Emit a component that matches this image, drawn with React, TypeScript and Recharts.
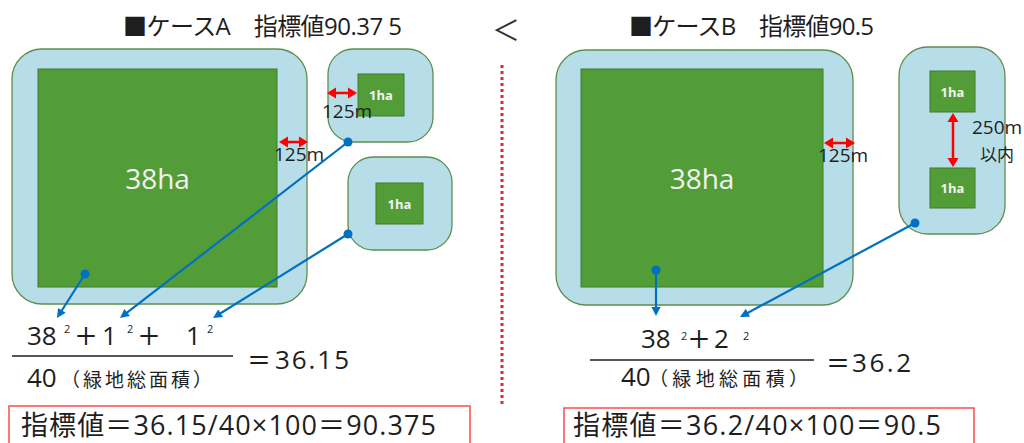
import React from "react";
import {
  ScatterChart,
  Scatter,
  XAxis,
  YAxis,
  ReferenceArea,
  ReferenceLine,
  ReferenceDot,
} from "recharts";

const W = 1024;
const H = 443;

const LATIN = "'Open Sans', 'Noto Sans CJK JP', sans-serif";
const CJK = "'Noto Sans CJK JP', sans-serif";

const ZONE_FILL = "#B7DEE8";
const ZONE_STROKE = "#5E8E4C";
const PARK_FILL = "#539D38";
const PARK_STROKE = "#3F7A2C";
const BLUE = "#0070C0";
const RED = "#FF0000";
const INK = "#1E1E1E";

// drawing space = slide pixels; x to the right, y downward
// 125m catchment zones around each green space
const zones = [
  { x1: 12, x2: 307, y1: 49, y2: 304 },
  { x1: 328, x2: 433, y1: 49, y2: 142 },
  { x1: 348, x2: 452, y1: 157, y2: 250 },
  { x1: 556, x2: 853, y1: 50, y2: 305 },
  { x1: 899, x2: 1005, y1: 47, y2: 234 },
];

// green spaces themselves
const parks = [
  { x1: 38, x2: 277, y1: 69, y2: 287 },
  { x1: 358, x2: 404, y1: 74, y2: 116 },
  { x1: 376, x2: 423, y1: 183, y2: 224 },
  { x1: 581, x2: 823, y1: 69, y2: 287 },
  { x1: 930, x2: 975, y1: 71, y2: 112 },
  { x1: 930, x2: 975, y1: 168, y2: 208 },
];
const parkAreas = ["38ha", "1ha", "1ha", "38ha", "1ha", "1ha"];

// red distance arrows
const gapArrows = [
  { x1: 327, y1: 93, x2: 357, y2: 93 },
  { x1: 279, y1: 142, x2: 308, y2: 142 },
  { x1: 824, y1: 143, x2: 855, y2: 143 },
  { x1: 953, y1: 113, x2: 953, y2: 167 },
];
const gapLabels = [
  { text: "125m", x: 347, y: 118 },
  { text: "125m", x: 299, y: 161 },
  { text: "125m", x: 843, y: 162 },
  { text: "250m", x: 997, y: 134 },
  { text: "以内", x: 997, y: 161 },
];

// blue leaders: from the zone to its term in the formula
const leaders = [
  { x1: 85, y1: 274, x2: 57, y2: 318 },
  { x1: 348, y1: 142, x2: 120, y2: 318 },
  { x1: 348, y1: 234, x2: 213, y2: 318 },
  { x1: 656, y1: 270, x2: 656, y2: 316 },
  { x1: 915, y1: 223, x2: 740, y2: 317 },
];

// headings: text, start x, end x, baseline
const titles = [
  { text: "■ケースA　指標値90.37 5", x: 123, x2: 402, y: 35 },
  { text: "■ケースB　指標値90.5", x: 629, x2: 874, y: 35 },
];

// formula terms (num = big digits, sup = squared mark)
const formulaA = [
  { text: "38", x: 27, y: 345, kind: "num" },
  { text: "2", x: 64, y: 333, kind: "sup" },
  { text: "＋", x: 74, y: 345, kind: "op" },
  { text: "1", x: 102, y: 345, kind: "num" },
  { text: "2", x: 127, y: 333, kind: "sup" },
  { text: "＋", x: 137, y: 345, kind: "op" },
  { text: "1", x: 186, y: 345, kind: "num" },
  { text: "2", x: 207, y: 333, kind: "sup" },
  { text: "40", x: 27, y: 387, kind: "num" },
  { text: "＝", x: 247, y: 369, kind: "op" },
];
const formulaB = [
  { text: "38", x: 641, y: 348, kind: "num" },
  { text: "2", x: 681, y: 340, kind: "sup" },
  { text: "＋", x: 687, y: 348, kind: "op" },
  { text: "2", x: 714, y: 348, kind: "num" },
  { text: "2", x: 743, y: 340, kind: "sup" },
  { text: "40", x: 621, y: 386, kind: "num" },
  { text: "＝", x: 826, y: 372, kind: "op" },
];
// stretched runs: text, start x, end x, baseline
const fittedRuns = [
  { text: "（緑地総面積）", x: 61, x2: 212, y: 387, kind: "paren" },
  { text: "36.15", x: 275, x2: 349, y: 369, kind: "num" },
  { text: "（緑地総面積）", x: 649, x2: 808, y: 386, kind: "paren" },
  { text: "36.2", x: 852, x2: 911, y: 372, kind: "num" },
  { text: "指標値＝36.15/40×100＝90.375", x: 21, x2: 436, y: 435, kind: "result" },
  { text: "指標値＝36.2/40×100＝90.5", x: 573, x2: 941, y: 435, kind: "result" },
];

const fractionBars = [
  { x1: 12, x2: 233, y: 356 },
  { x1: 590, x2: 814, y: 360 },
];
const resultBoxes = [
  { x1: 9, x2: 470, y1: 406 },
  { x1: 564, x2: 974, y1: 408 },
];
const divider = { x: 502, y1: 65, y2: 405 };

const TEXT_STYLE: Record<string, any> = {
  title: { fontSize: 24, fontFamily: LATIN, fill: INK },
  num: { fontSize: 26, fontFamily: LATIN, fill: INK },
  sup: { fontSize: 11, fontFamily: LATIN, fill: INK },
  op: { fontSize: 24, fontFamily: CJK, fill: INK, fontWeight: 500 },
  paren: { fontSize: 19, fontFamily: CJK, fill: INK },
  result: { fontSize: 27, fontFamily: LATIN, fill: INK },
  gap: { fontSize: 19, fontFamily: LATIN, fill: INK, textAnchor: "middle" },
};

function headPoints(x: number, y: number, ux: number, uy: number, len: number, hw: number) {
  const bx = x - ux * len;
  const by = y - uy * len;
  return `${x},${y} ${bx - uy * hw},${by + ux * hw} ${bx + uy * hw},${by - ux * hw}`;
}

function LeaderShape(p: any) {
  const dx = p.x2 - p.x1;
  const dy = p.y2 - p.y1;
  const d = Math.hypot(dx, dy) || 1;
  const ux = dx / d;
  const uy = dy / d;
  const len = 8;
  return (
    <g>
      <line x1={p.x1} y1={p.y1} x2={p.x2 - ux * len} y2={p.y2 - uy * len} stroke={BLUE} strokeWidth={2.2} />
      <polygon points={headPoints(p.x2, p.y2, ux, uy, len + 1, 4.5)} fill={BLUE} />
    </g>
  );
}

function GapShape(p: any) {
  const dx = p.x2 - p.x1;
  const dy = p.y2 - p.y1;
  const d = Math.hypot(dx, dy) || 1;
  const ux = dx / d;
  const uy = dy / d;
  const len = 9;
  return (
    <g>
      <line
        x1={p.x1 + ux * len}
        y1={p.y1 + uy * len}
        x2={p.x2 - ux * len}
        y2={p.y2 - uy * len}
        stroke={RED}
        strokeWidth={2.5}
      />
      <polygon points={headPoints(p.x2, p.y2, ux, uy, len, 5.5)} fill={RED} />
      <polygon points={headPoints(p.x1, p.y1, -ux, -uy, len, 5.5)} fill={RED} />
    </g>
  );
}

const roundedRect = (fill: string, stroke: string, sw: number, radius: (w: number, h: number) => number) =>
  (p: any) => (
    <rect
      x={p.x}
      y={p.y}
      width={p.width}
      height={p.height}
      rx={radius(p.width, p.height)}
      fill={fill}
      stroke={stroke}
      strokeWidth={sw}
    />
  );

const zoneShape = roundedRect(ZONE_FILL, ZONE_STROKE, 1.3, (w, h) => Math.min(30, 0.27 * Math.min(w, h)));
const parkShape = roundedRect(PARK_FILL, PARK_STROKE, 1, () => 0);

const pointText = (text: string, style: any, extra: any = {}) => (p: any) => (
  <text x={p.cx} y={p.cy} {...style} {...extra}>
    {text}
  </text>
);

const runText = (text: string, style: any) => (p: any) => (
  <text x={p.x1} y={p.y1} textLength={p.x2 - p.x1} lengthAdjust="spacing" {...style}>
    {text}
  </text>
);

export default function App() {
  const dots = leaders.map((l) => ({ x: l.x1, y: l.y1 }));
  return (
    <div style={{ position: "absolute", left: 0, top: 0, width: W, height: H, background: "#fff" }}>
      <ScatterChart width={W} height={H} margin={{ top: 0, right: 0, bottom: 0, left: 0 }}>
        <XAxis type="number" dataKey="x" domain={[0, W]} hide allowDataOverflow />
        <YAxis type="number" dataKey="y" domain={[0, H]} reversed hide allowDataOverflow />

        {zones.map((z, i) => (
          <ReferenceArea key={`z${i}`} x1={z.x1} x2={z.x2} y1={z.y1} y2={z.y2} shape={zoneShape} />
        ))}
        {parks.map((z, i) => (
          <ReferenceArea key={`p${i}`} x1={z.x1} x2={z.x2} y1={z.y1} y2={z.y2} shape={parkShape} />
        ))}
        {resultBoxes.map((b, i) => (
          <ReferenceArea
            key={`b${i}`}
            x1={b.x1}
            x2={b.x2}
            y1={b.y1}
            y2={H + 6}
            ifOverflow="visible"
            fill="none"
            fillOpacity={0}
            stroke="#FF4A4A"
            strokeWidth={1.5}
          />
        ))}

        <ReferenceLine
          segment={[
            { x: divider.x, y: divider.y1 },
            { x: divider.x, y: divider.y2 },
          ]}
          stroke="#E8262A"
          strokeWidth={3}
          strokeDasharray="3 3"
        />
        {fractionBars.map((f, i) => (
          <ReferenceLine
            key={`f${i}`}
            segment={[
              { x: f.x1, y: f.y },
              { x: f.x2, y: f.y },
            ]}
            stroke={INK}
            strokeWidth={1.5}
          />
        ))}
        {gapArrows.map((a, i) => (
          <ReferenceLine
            key={`g${i}`}
            segment={[
              { x: a.x1, y: a.y1 },
              { x: a.x2, y: a.y2 },
            ]}
            shape={GapShape}
          />
        ))}
        {leaders.map((a, i) => (
          <ReferenceLine
            key={`l${i}`}
            segment={[
              { x: a.x1, y: a.y1 },
              { x: a.x2, y: a.y2 },
            ]}
            shape={LeaderShape}
          />
        ))}

        <Scatter data={dots} fill={BLUE} isAnimationActive={false} />

        {parks.map((z, i) => (
          <ReferenceDot
            key={`pl${i}`}
            x={(z.x1 + z.x2) / 2}
            y={(z.y1 + z.y2) / 2}
            r={0}
            shape={pointText(
              parkAreas[i],
              parkAreas[i] === "38ha"
                ? { fontSize: 28, fontFamily: LATIN, fill: "#F2F2F2" }
                : { fontSize: 13, fontFamily: LATIN, fontWeight: 700, fill: "#F2F2F2" },
              { textAnchor: "middle", dominantBaseline: "central" }
            )}
          />
        ))}
        {gapLabels.map((g, i) => (
          <ReferenceDot
            key={`gl${i}`}
            x={g.x}
            y={g.y}
            r={0}
            shape={pointText(g.text, g.text === "以内" ? { ...TEXT_STYLE.gap, fontFamily: CJK, fontSize: 17 } : TEXT_STYLE.gap)}
          />
        ))}
        <ReferenceDot
          x={506}
          y={29}
          r={0}
          shape={pointText("＜", { fontSize: 28, fontFamily: CJK, fill: "#333" }, { textAnchor: "middle", dominantBaseline: "central" })}
        />
        {[...formulaA, ...formulaB].map((t, i) => (
          <ReferenceDot key={`t${i}`} x={t.x} y={t.y} r={0} shape={pointText(t.text, TEXT_STYLE[t.kind])} />
        ))}
        {[...titles.map((t) => ({ ...t, kind: "title" })), ...fittedRuns].map((t, i) => (
          <ReferenceLine
            key={`r${i}`}
            segment={[
              { x: t.x, y: t.y },
              { x: t.x2, y: t.y },
            ]}
            shape={runText(t.text, TEXT_STYLE[t.kind])}
          />
        ))}
      </ScatterChart>
    </div>
  );
}
